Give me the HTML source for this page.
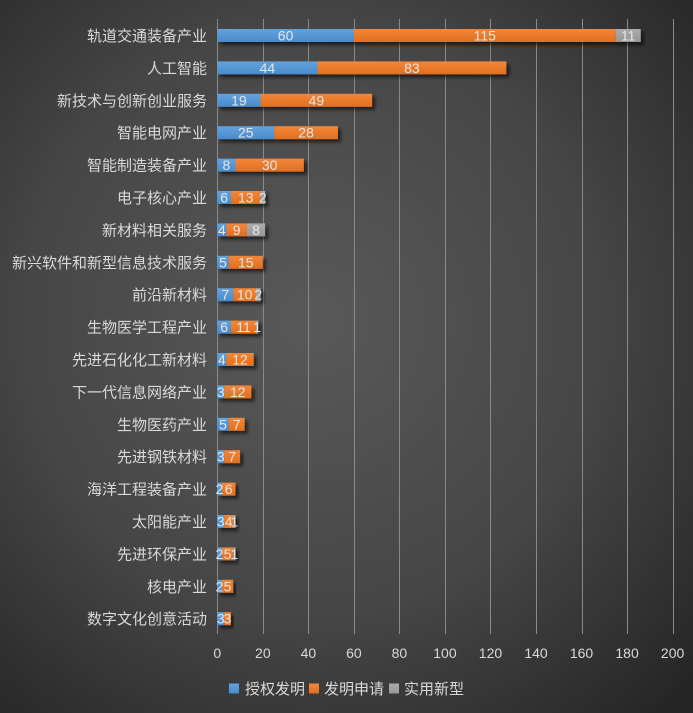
<!DOCTYPE html>
<html><head><meta charset="utf-8"><style>
html,body{margin:0;padding:0;background:#3a3a3a;}
svg{display:block;}
text{font-family:"Liberation Sans","Noto Sans CJK SC",sans-serif;}
</style></head><body>
<svg width="693" height="713" viewBox="0 0 693 713" xmlns="http://www.w3.org/2000/svg">
<defs>
<radialGradient id="bg" cx="45%" cy="45%" r="75%">
<stop offset="0" stop-color="#595959"/>
<stop offset="0.55" stop-color="#464646"/>
<stop offset="1" stop-color="#252525"/>
</radialGradient>
<linearGradient id="gb" x1="0" y1="0" x2="0" y2="1"><stop offset="0" stop-color="#62a3de"/><stop offset="1" stop-color="#4a8acb"/></linearGradient>
<linearGradient id="go" x1="0" y1="0" x2="0" y2="1"><stop offset="0" stop-color="#f3873a"/><stop offset="1" stop-color="#e06f20"/></linearGradient>
<linearGradient id="gg" x1="0" y1="0" x2="0" y2="1"><stop offset="0" stop-color="#ababab"/><stop offset="1" stop-color="#979797"/></linearGradient>
<filter id="sh" x="-10%" y="-50%" width="130%" height="250%"><feDropShadow dx="3" dy="3" stdDeviation="1.8" flood-color="#000" flood-opacity="0.6"/></filter>
</defs>
<rect width="693" height="713" fill="url(#bg)"/>
<g id="grid" stroke="#8a8a8a" stroke-width="1"></g>
<g id="cats" fill="#d9d9d9" font-size="15" text-anchor="end"></g>
<g id="bars"></g>
<g id="axis" fill="#d9d9d9" font-size="14" text-anchor="middle"></g>
<g font-size="15" fill="#d9d9d9">
<rect x="229" y="683.5" width="10" height="10" fill="url(#gb)"/>
<text x="245" y="694">授权发明</text>
<rect x="309" y="683.5" width="10" height="10" fill="url(#go)"/>
<text x="324" y="694">发明申请</text>
<rect x="389" y="683.5" width="10" height="10" fill="url(#gg)"/>
<text x="404" y="694">实用新型</text>
</g>
</svg>
<script>
(function(){
var NS="http://www.w3.org/2000/svg";
function el(t,a,txt){var e=document.createElementNS(NS,t);for(var k in a)e.setAttribute(k,a[k]);if(txt!==undefined)e.textContent=txt;return e;}
var x0=217.3,s=2.2765;
function X(v){return x0+s*v;}
var grid=document.getElementById('grid'),axis=document.getElementById('axis');
for(var g=0;g<=200;g+=20){var xx=Math.round(X(g))+0.5;grid.appendChild(el('line',{x1:xx,y1:19,x2:xx,y2:634}));axis.appendChild(el('text',{x:X(g),y:658},String(g)));}
var data=[["轨道交通装备产业",60,115,11],["人工智能",44,83,0],["新技术与创新创业服务",19,49,0],["智能电网产业",25,28,0],["智能制造装备产业",8,30,0],["电子核心产业",6,13,2],["新材料相关服务",4,9,8],["新兴软件和新型信息技术服务",5,15,0],["前沿新材料",7,10,2],["生物医学工程产业",6,11,1],["先进石化化工新材料",4,12,0],["下一代信息网络产业",3,12,0],["生物医药产业",5,7,0],["先进钢铁材料",3,7,0],["海洋工程装备产业",2,6,0],["太阳能产业",3,4,1],["先进环保产业",2,5,1],["核电产业",2,5,0],["数字文化创意活动",3,3,0]];
var cats=document.getElementById('cats'),bars=document.getElementById('bars');
var fills=["url(#gb)","url(#go)","url(#gg)"];
data.forEach(function(d,i){
 var cy=35.5+32.4*i;
 cats.appendChild(el('text',{x:207,y:cy+5.5},d[0]));
 var grp=el('g',{filter:"url(#sh)"});var acc=0;
 for(var j=0;j<3;j++){var v=d[j+1];if(!v)continue;grp.appendChild(el('rect',{x:X(acc),y:cy-6.5,width:s*v,height:13,fill:fills[j]}));acc+=v;}
 bars.appendChild(grp);
 acc=0;
 for(var j=0;j<3;j++){var v=d[j+1];if(!v)continue;bars.appendChild(el('text',{x:X(acc+v/2),y:cy+5,"text-anchor":"middle","font-size":"14",fill:"#e6e6e6"},String(v)));acc+=v;}
});
})();
</script>
</body></html>
